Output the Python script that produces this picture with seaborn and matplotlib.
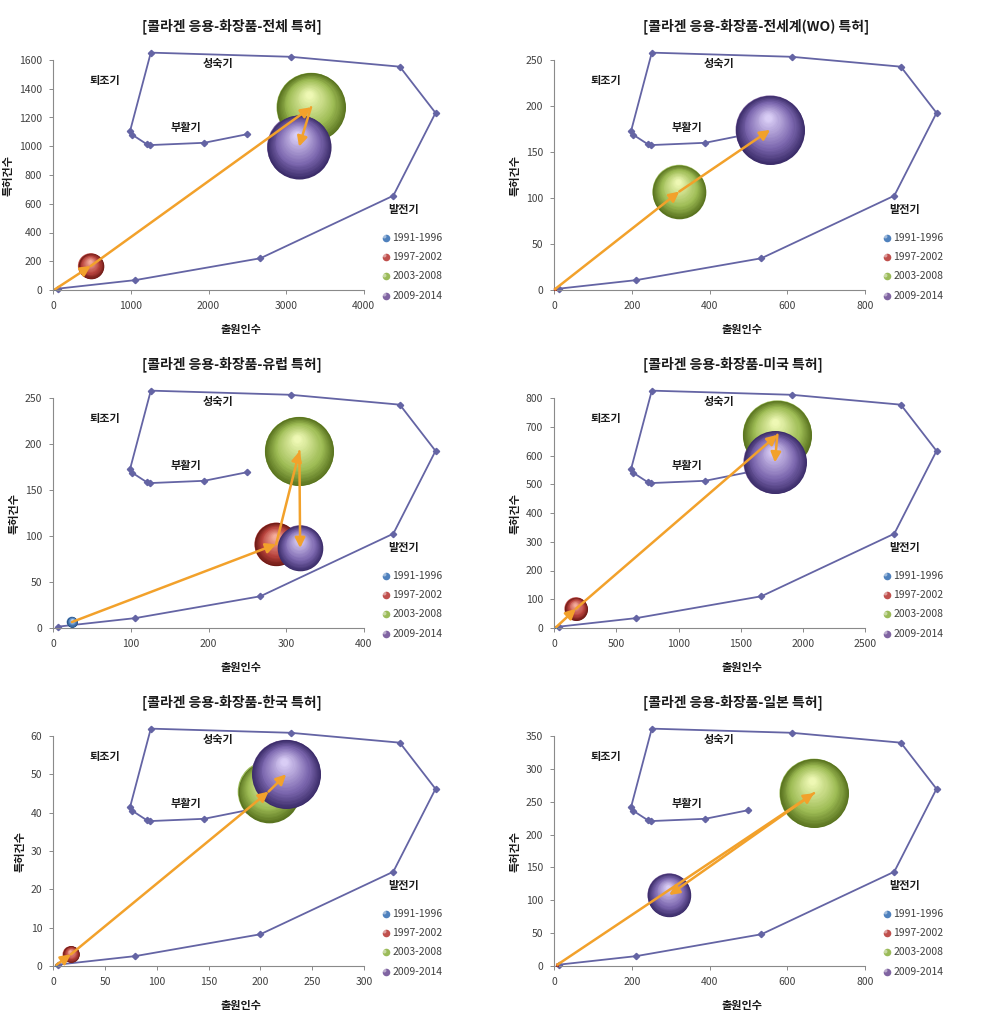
import numpy as np
import pandas as pd
import matplotlib
matplotlib.use("Agg")
import matplotlib.pyplot as plt
import seaborn as sns
from matplotlib.transforms import offset_copy
from matplotlib.colors import to_rgb

# ---------------- data ----------------
PERIODS = ["1991-1996", "1997-2002", "2003-2008", "2009-2014"]

TITLES = [
    "[콜라겐 응용-화장품-전체 특허]",
    "[콜라겐 응용-화장품-전세계(WO) 특허]",
    "[콜라겐 응용-화장품-유럽 특허]",
    "[콜라겐 응용-화장품-미국 특허]",
    "[콜라겐 응용-화장품-한국 특허]",
    "[콜라겐 응용-화장품-일본 특허]",
]

# 출원인수 (x), 특허건수 (y), bubble size per period
ALL_X = [25, 482, 3320, 3166]
ALL_Y = [6, 167, 1271, 997]
ALL_S = [1, 160, 1160, 1000]

WO_X = [0, 2, 322, 556]
WO_Y = [0, 1, 107, 174]
WO_S = [0, 0.3, 105, 174]

EP_X = [24, 287, 317, 318]
EP_Y = [6.5, 91, 192, 87]
EP_S = [4.5, 75, 190, 83]

US_X = [15, 174, 1796, 1776]
US_Y = [3, 67, 672, 576]
US_S = [1, 75, 672, 560]

KR_X = [3, 17, 208, 225]
KR_Y = [0.3, 3.05, 45.5, 50.0]
KR_S = [0.05, 2.9, 40, 50]

JP_X = [5, 8, 669, 296]
JP_Y = [1, 2, 263, 108]
JP_S = [0, 0.5, 265, 105]

X_MAX = [4000, 800, 400, 2500, 300, 800]
X_STEP = [1000, 200, 100, 500, 50, 200]
Y_MAX = [1600, 250, 250, 800, 60, 350]
Y_STEP = [200, 50, 50, 100, 10, 50]

# life-cycle outline (fraction of plot area)
CYCLE_FX = [0.016, 0.264, 0.667, 1.095, 1.231, 1.116, 0.764, 0.314,
            0.247, 0.253, 0.301, 0.310, 0.486, 0.623]
CYCLE_FY = [0.006, 0.043, 0.138, 0.410, 0.770, 0.971, 1.014, 1.032,
            0.690, 0.676, 0.634, 0.630, 0.640, 0.677]
PHASES = ["퇴조기", "성숙기", "부활기", "발전기"]
PHASE_FX = [0.167, 0.532, 0.428, 1.129]
PHASE_FY = [0.913, 0.983, 0.706, 0.348]

XLABEL = "출원인수"
YLABEL = "특허건수"

# ---------------- style ----------------
sns.set_theme(style="white")
plt.rcParams["font.family"] = ["Noto Sans CJK KR", "DejaVu Sans"]
plt.rcParams["axes.unicode_minus"] = False

LEGEND_COL = ["#4F81BD", "#C0504D", "#9BBB59", "#8064A2"]
SPHERE_COL = [
    ("#244a78", "#4f81bd", "#c4dcf4"),
    ("#6e1a15", "#b8433d", "#f4ac9c"),
    ("#5a7420", "#9ebc55", "#eef8b4"),
    ("#3c2d6a", "#7b66ae", "#d9cdf5"),
]
ARROW_COL = "#F2A12B"
CYCLE_COL = "#6464A4"
TEXT_COL = "#404040"
SPINE_COL = "#8a8a8a"
S_MAX = (2 * 34.5 * 0.72) ** 2  # largest bubble area (pt^2)

datasets = [
    (ALL_X, ALL_Y, ALL_S), (WO_X, WO_Y, WO_S),
    (EP_X, EP_Y, EP_S), (US_X, US_Y, US_S),
    (KR_X, KR_Y, KR_S), (JP_X, JP_Y, JP_S),
]

fig = plt.figure(figsize=(9.9, 10.24), dpi=100)
W, H = 990.0, 1024.0
COL_LEFT = [53.3, 554.3]
ROW_BOTTOM = [290.0, 628.0, 966.0]
AX_W, AX_H = 310.5, 230.0


def mix(c1, c2, t):
    a, b = np.array(to_rgb(c1)), np.array(to_rgb(c2))
    return tuple(a + (b - a) * t)


def sphere(ax, x, y, s, cols, z):
    if s <= 0:
        return
    R = np.sqrt(s) / 2.0
    n = 26
    for i in range(n):
        t = i / (n - 1)
        if t < 0.35:
            c = mix(cols[0], cols[1], t / 0.35)
        else:
            c = mix(cols[1], cols[2], (t - 0.35) / 0.65)
        r = R * (1 - 0.9 * t)
        tr = offset_copy(ax.transData, fig=ax.figure, x=-0.06 * R * t,
                         y=0.36 * R * t, units="points")
        ax.scatter([x], [y], s=(2 * r) ** 2, color=[c], linewidths=0,
                   transform=tr, zorder=z + i * 0.001, clip_on=False)


for k, (xs, ys, ss) in enumerate(datasets):
    row, col = divmod(k, 2)
    left = COL_LEFT[col] / W
    bottom = 1 - ROW_BOTTOM[row] / H
    ax = fig.add_axes([left, bottom, AX_W / W, AX_H / H])
    ax.set_xlim(0, X_MAX[k])
    ax.set_ylim(0, Y_MAX[k])

    df = pd.DataFrame({"x": xs, "y": ys, "size": ss, "period": PERIODS})
    smax = max(ss)
    sns.scatterplot(data=df, x="x", y="y", hue="period", palette=LEGEND_COL,
                    size="size", sizes=(0, S_MAX), size_norm=(0, smax),
                    legend=False, ax=ax, linewidth=0, zorder=3, clip_on=False)
    for j in range(4):
        sphere(ax, xs[j], ys[j], S_MAX * ss[j] / smax, SPHERE_COL[j], 3 + j * 0.1)

    # arrows between consecutive periods (skip degenerate ones)
    for j in range(3):
        p0 = ax.transData.transform((xs[j], ys[j]))
        p1 = ax.transData.transform((xs[j + 1], ys[j + 1]))
        if np.hypot(*(p1 - p0)) < 8:
            continue
        ax.annotate("", xy=(xs[j + 1], ys[j + 1]), xytext=(xs[j], ys[j]),
                    arrowprops=dict(arrowstyle="-|>,head_length=0.5,head_width=0.25",
                                    color=ARROW_COL, lw=1.8, shrinkA=0, shrinkB=0),
                    zorder=6, annotation_clip=False)

    # life-cycle outline
    ax.plot(CYCLE_FX, CYCLE_FY, color=CYCLE_COL, lw=1.3, marker="D",
            markersize=3.2, transform=ax.transAxes, clip_on=False, zorder=2)
    for name, fx, fy in zip(PHASES, PHASE_FX, PHASE_FY):
        ax.text(fx, fy, name, transform=ax.transAxes, ha="center", va="center",
                fontsize=8, fontweight="bold", color="#1a1a1a", zorder=7)

    # legend (manual, right of plot)
    for j, p in enumerate(PERIODS):
        fy = 0.228 - j * 0.0845
        ax.scatter([1.07], [fy], s=30, color=[LEGEND_COL[j]], transform=ax.transAxes,
                   clip_on=False, zorder=7, linewidths=0)
        ax.scatter([1.066], [fy + 0.008], s=8, color=["white"], alpha=0.45,
                   transform=ax.transAxes, clip_on=False, zorder=8, linewidths=0)
        ax.text(1.091, fy, p, transform=ax.transAxes, ha="left", va="center",
                fontsize=7.5, color=TEXT_COL)

    ax.set_xticks(np.arange(0, X_MAX[k] + 1, X_STEP[k]))
    ax.set_yticks(np.arange(0, Y_MAX[k] + 0.001, Y_STEP[k]))
    ax.tick_params(axis="both", labelsize=7.5, colors=TEXT_COL, length=3,
                   width=0.7, direction="out", pad=5, left=True, bottom=True)
    for sp in ["top", "right"]:
        ax.spines[sp].set_visible(False)
    for sp in ["left", "bottom"]:
        ax.spines[sp].set_color(SPINE_COL)
        ax.spines[sp].set_linewidth(0.8)
    ax.tick_params(colors=SPINE_COL, which="both", labelcolor=TEXT_COL)

    ax.set_xlabel(XLABEL, fontsize=8, fontweight="bold", color="#1a1a1a")
    ax.xaxis.set_label_coords(0.603, -0.143)
    ax.set_ylabel(YLABEL, fontsize=8, fontweight="bold", color="#1a1a1a", labelpad=3)

    ax.text(0.286, 1.145, TITLES[k], transform=ax.transAxes, ha="left",
            va="center", fontsize=10, fontweight="bold", color="#1a1a1a")

fig.savefig("out.png", dpi=100, facecolor="white")
